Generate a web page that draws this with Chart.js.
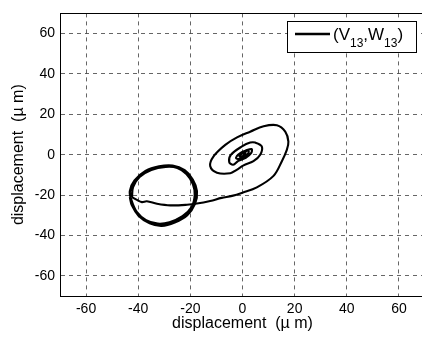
<!DOCTYPE html>
<html>
<head>
<meta charset="utf-8">
<script src="https://cdn.jsdelivr.net/npm/chart.js@4.4.0/dist/chart.umd.min.js"></script>
<style>
  html, body { margin: 0; padding: 0; background: #fff; overflow: hidden; }
  #wrap { position: relative; width: 430px; height: 342px; }
</style>
</head>
<body>
<div id="wrap"><canvas id="c" width="430" height="342"></canvas></div>
<script>
// Axis ticks and titles
const xTicks = [-60, -40, -20, 0, 20, 40, 60];
const yTicks = [-60, -40, -20, 0, 20, 40, 60];
const xTitle = 'displacement  (\u00b5 m)';
const yTitle = 'displacement  (\u00b5 m)';
// legend text pieces: main, subscript, main, subscript, main
const legendParts = ['(V', '13', ',W', '13', ')'];

// Trajectory (V13, W13) in micrometres, traced from the centre outwards
const coreX = [0, 1.17, 0.37, -1.17, -0.37, 0.82, 2.34, 2.18, 0.74, -1.13, -2.34, -2.18, -0.74, 1.13, 3.51, 3.36, 1.24, -1.6];
const coreY = [0, 0.93, -0.47, -0.93, 0.47, 1.46, 1.86, 0.65, -0.94, -1.98, -1.86, -0.65, 0.94, 1.98, 2.79, 0.87, -1.56, -3.08];
const ringX = [-3.6, -5.1, -4.4, -0.2, 2.95, 4.9, 7.4, 6.8, 4.2, 0.4, -2.4];
const ringY = [-5.0, -3.6, 0, 4.1, 6.0, 6.0, 4.1, 0, -3.2, -5.3, -7.6];
const outerX = [-4.7, -9.8, -12.4, -11.1, -6.6, -2.1, 2.95, 8.1, 13.2, 16.4, 17.6, 17.0, 15.1, 11.9, 5.5];
const outerY = [-9.2, -8.9, -5.6, -0.8, 4.9, 8.6, 11.4, 14.1, 14.6, 11.4, 6.5, 2.4, -3.2, -10.5, -16.2];
const tailX = [0, -4, -8, -12.4, -17.5, -21.3, -27.7, -32.8, -36.7, -38.6, -40.5, -42.4];
const tailY = [-18.8, -20.4, -21.4, -22.9, -24.2, -24.8, -25.1, -24.3, -23.1, -23.5, -22.4, -21];
// repeated cycle around (-30, -20)
const cycleX = [-42.4, -42.0, -39.5, -35, -29.5, -25, -21.5, -19, -18.3, -19.5, -23, -28, -32.5, -37, -40.5, -42.5,
                -43.2, -41.4, -37.2, -32, -26.8, -22.2, -19.1, -17.5, -18.2, -21.2, -26, -31, -35.6, -39.8, -42.4, -43.2];
const cycleY = [-21, -16, -11, -7.5, -6, -6.5, -9.5, -14.5, -20, -26, -30.5, -33.5, -34.2, -32.5, -28.5, -23,
                -18, -12.8, -8.1, -5.8, -5.4, -7.7, -12.3, -18, -24.2, -29.9, -33.5, -35.2, -33.9, -30.3, -25.1, -21];

const toPoints = (xs, ys) => xs.map((x, i) => ({ x: x, y: ys[i] }));
const spiralPoints = toPoints([].concat(coreX, ringX, outerX, tailX), [].concat(coreY, ringY, outerY, tailY));
const cyclePoints = toPoints(cycleX, cycleY);

const FONT = "'Liberation Sans', Arial, Helvetica, sans-serif";

// frame on all four sides plus the boxed legend
const frameAndLegend = {
  id: 'frameAndLegend',
  afterDatasetsDraw(chart) {
    const { ctx, chartArea: a } = chart;
    ctx.save();
    ctx.strokeStyle = '#000';
    ctx.lineWidth = 1;
    ctx.strokeRect(Math.round(a.left) + 0.5, Math.round(a.top) + 0.5,
                   Math.round(a.right - a.left), Math.round(a.bottom - a.top));

    // legend box
    const bx = 287.5, by = 21.5, bw = 129, bh = 31;
    ctx.fillStyle = '#fff';
    ctx.fillRect(bx, by, bw, bh);
    ctx.strokeRect(bx, by, bw, bh);

    // sample line
    ctx.beginPath();
    ctx.lineWidth = 2.6;
    ctx.moveTo(295, 34);
    ctx.lineTo(330, 34);
    ctx.stroke();

    // label with subscripts
    let x = 333;
    ctx.fillStyle = '#000';
    ctx.textBaseline = 'alphabetic';
    ctx.textAlign = 'left';
    legendParts.forEach((p, i) => {
      const sub = i % 2 === 1;
      ctx.font = (sub ? '12px ' : '17px ') + FONT;
      ctx.fillText(p, x, sub ? 47 : 40);
      x += ctx.measureText(p).width;
    });
    ctx.restore();
  }
};

const tickFont = { family: FONT, size: 14 };
const titleFont = { family: FONT, size: 16 };

new Chart(document.getElementById('c'), {
  type: 'scatter',
  data: {
    datasets: [{
      label: '(V13,W13)',
      data: spiralPoints,
      showLine: true,
      borderColor: '#000',
      borderWidth: 2.1,
      pointRadius: 0,
      tension: 0.35,
      fill: false
    }, {
      label: '(V13,W13) cycle',
      data: cyclePoints,
      showLine: true,
      borderColor: '#000',
      borderWidth: 2.3,
      pointRadius: 0,
      tension: 0.35,
      fill: false
    }]
  },
  options: {
    responsive: false,
    animation: false,
    devicePixelRatio: 1,
    layout: { padding: { left: 0, top: 7, right: 5, bottom: 0 } },
    plugins: { legend: { display: false }, tooltip: { enabled: false } },
    scales: {
      x: {
        type: 'linear',
        min: -70, max: 70,
        afterBuildTicks: s => { s.ticks = xTicks.map(v => ({ value: v })); },
        afterFit: s => { s.height = 46; },
        grid: { color: 'rgba(0,0,0,0.6)', lineWidth: 1, drawTicks: false },
        border: { display: true, color: '#000', width: 1, dash: [4, 4] },
        ticks: { color: '#000', font: tickFont, padding: 5, maxRotation: 0 },
        title: { display: true, text: xTitle, color: '#000', font: titleFont, padding: { top: 0, bottom: 9 } }
      },
      y: {
        type: 'linear',
        min: -70, max: 70,
        afterBuildTicks: s => { s.ticks = yTicks.map(v => ({ value: v })); },
        afterFit: s => { s.width = 60; },
        grid: { color: 'rgba(0,0,0,0.6)', lineWidth: 1, drawTicks: false },
        border: { display: true, color: '#000', width: 1, dash: [4, 4] },
        ticks: { color: '#000', font: tickFont, padding: 5 },
        title: { display: true, text: yTitle, color: '#000', font: titleFont, padding: { top: 9, bottom: 0 } }
      }
    }
  },
  plugins: [frameAndLegend]
});
</script>
</body>
</html>
